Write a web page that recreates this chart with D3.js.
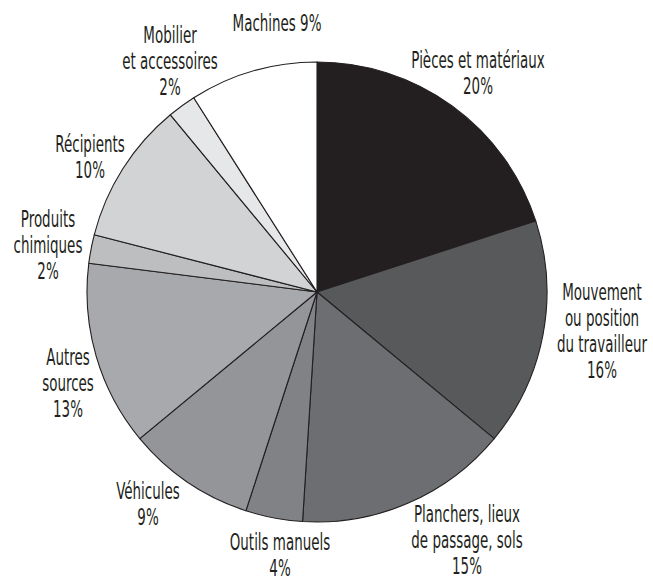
<!DOCTYPE html>
<html lang="fr">
<head>
    <meta charset="UTF-8">
    <script src="https://d3js.org/d3.v7.min.js"></script>
    <style>
        body { margin: 0; background: #fff; }
        text {
            font-family: "DejaVu Sans Condensed", "Liberation Sans Narrow", sans-serif;
            font-size: 23px;
            fill: #231f20;
        }
    </style>
</head>
<body>
    <svg id="chart" width="653" height="581"></svg>
    <script>
        // Données (sens horaire depuis midi)
        const categories = [
            "Pièces et matériaux", "Mouvement ou position du travailleur",
            "Planchers, lieux de passage, sols", "Outils manuels", "Véhicules",
            "Autres sources", "Produits chimiques", "Récipients",
            "Mobilier et accessoires", "Machines"
        ];
        const labelLines = [
            ["Pièces et matériaux"],
            ["Mouvement", "ou position", "du travailleur"],
            ["Planchers, lieux", "de passage, sols"],
            ["Outils manuels"],
            ["Véhicules"],
            ["Autres", "sources"],
            ["Produits", "chimiques"],
            ["Récipients"],
            ["Mobilier", "et accessoires"],
            ["Machines"]
        ];
        const values = [20, 16, 15, 4, 9, 13, 2, 10, 2, 9];
        const colors = ["#231f20", "#58595b", "#6d6e71", "#808285", "#939598",
                        "#a7a9ac", "#bcbec0", "#d1d3d4", "#e6e7e8", "#ffffff"];

        // position des étiquettes (centre x, première ligne de base)
        const labelPos = [[478, 68], [602, 300], [467, 522], [280, 550], [148, 499],
                          [68, 365], [48, 227], [90, 152], [170, 43], [277, 31]];
        const inlinePct = new Set(["Machines"]);

        const cx = 317, cy = 292, radius = 230;
        const lineH = 26;

        const svg = d3.select("#chart");

        const pie = d3.pie().sort(null).value(d => d);
        const arc = d3.arc().innerRadius(0).outerRadius(radius);

        const color = d3.scaleOrdinal().domain(categories).range(colors);

        svg.append("g")
            .attr("transform", `translate(${cx},${cy})`)
            .selectAll("path")
            .data(pie(values))
            .enter().append("path")
            .attr("d", arc)
            .attr("fill", (d, i) => color(categories[i]))
            .attr("stroke", "#231f20")
            .attr("stroke-width", 1.1)
            .attr("stroke-linejoin", "round");

        // étiquettes (police condensée, resserrée horizontalement)
        const labels = svg.append("g").selectAll("text")
            .data(categories)
            .enter().append("text")
            .attr("text-anchor", "middle")
            .attr("transform", (d, i) => `translate(${labelPos[i][0]},${labelPos[i][1]}) scale(0.65,1)`);

        labels.each(function(d, i) {
            const t = d3.select(this);
            let lines = labelLines[i].slice();
            if (inlinePct.has(lines[0])) lines[lines.length - 1] += ` ${values[i]}%`;
            else lines.push(`${values[i]}%`);
            lines.forEach((l, j) => {
                t.append("tspan").attr("x", 0).attr("y", j * lineH).text(l);
            });
        });
    </script>
</body>
</html>
